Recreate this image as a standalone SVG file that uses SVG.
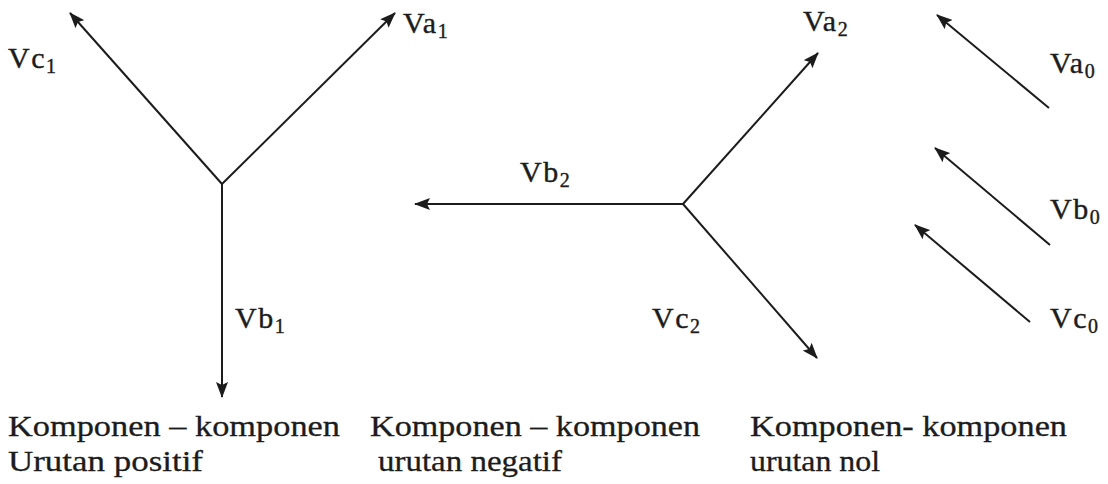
<svg xmlns="http://www.w3.org/2000/svg" width="1108" height="484" viewBox="0 0 1108 484">
  <style>
    .ln { stroke: #1c1c1c; stroke-width: 2; fill: none; marker-end: url(#ah); }
    .lbl { font-family: 'Liberation Serif', 'Times New Roman', serif; font-size: 30px; fill: #1c1c1c; stroke: #1c1c1c; stroke-width: 0.4px; letter-spacing: 1.5px; }
    .sub { font-size: 20px; }
    .cap { font-family: 'Liberation Serif', 'Times New Roman', serif; font-size: 30px; fill: #1c1c1c; stroke: #1c1c1c; stroke-width: 0.3px; }
  </style>
  <defs>
    <marker id="ah" markerUnits="userSpaceOnUse" markerWidth="16" markerHeight="12" viewBox="0 0 16 12" refX="15" refY="6" orient="auto">
      <path d="M0,0 L16,6 L0,12 L3,6 Z" fill="#1c1c1c"/>
    </marker>
  </defs>
  <rect width="1108" height="484" fill="#ffffff"/>

  <g id="connectors">
    <line class="ln" x1="222" y1="184" x2="70" y2="13"/>
    <line class="ln" x1="222" y1="184" x2="395" y2="13"/>
    <line class="ln" x1="222" y1="184" x2="222" y2="397"/>

    <line class="ln" x1="683" y1="204" x2="415" y2="204"/>
    <line class="ln" x1="683" y1="204" x2="818" y2="53"/>
    <line class="ln" x1="683" y1="204" x2="817" y2="358"/>

    <line class="ln" x1="1049" y1="108" x2="937" y2="15"/>
    <line class="ln" x1="1050" y1="245" x2="935" y2="148"/>
    <line class="ln" x1="1030" y1="322" x2="915" y2="225"/>
  </g>

  <g id="positive">
    <text class="lbl" x="8" y="68">Vc<tspan class="sub" dy="5">1</tspan></text>
    <text class="lbl" x="403" y="33">Va<tspan class="sub" dy="5">1</tspan></text>
    <text class="lbl" x="235" y="328">Vb<tspan class="sub" dy="5">1</tspan></text>
  </g>

  <g id="negative">
    <text class="lbl" x="803" y="31">Va<tspan class="sub" dy="5">2</tspan></text>
    <text class="lbl" x="520" y="182">Vb<tspan class="sub" dy="5">2</tspan></text>
    <text class="lbl" x="652" y="328">Vc<tspan class="sub" dy="5">2</tspan></text>
  </g>

  <g id="zero">
    <text class="lbl" x="1050" y="73">Va<tspan class="sub" dy="5">0</tspan></text>
    <text class="lbl" x="1050" y="219">Vb<tspan class="sub" dy="5">0</tspan></text>
    <text class="lbl" x="1050" y="328">Vc<tspan class="sub" dy="5">0</tspan></text>
  </g>

  <g id="captions">
    <text class="cap" x="8" y="436" textLength="332" lengthAdjust="spacingAndGlyphs">Komponen – komponen</text>
    <text class="cap" x="8" y="471" textLength="195" lengthAdjust="spacingAndGlyphs">Urutan positif</text>
    <text class="cap" x="370" y="436" textLength="330" lengthAdjust="spacingAndGlyphs">Komponen – komponen</text>
    <text class="cap" x="378" y="471" textLength="184" lengthAdjust="spacingAndGlyphs">urutan negatif</text>
    <text class="cap" x="750" y="436" textLength="317" lengthAdjust="spacingAndGlyphs">Komponen- komponen</text>
    <text class="cap" x="750" y="471" textLength="130" lengthAdjust="spacingAndGlyphs">urutan nol</text>
  </g>
</svg>
